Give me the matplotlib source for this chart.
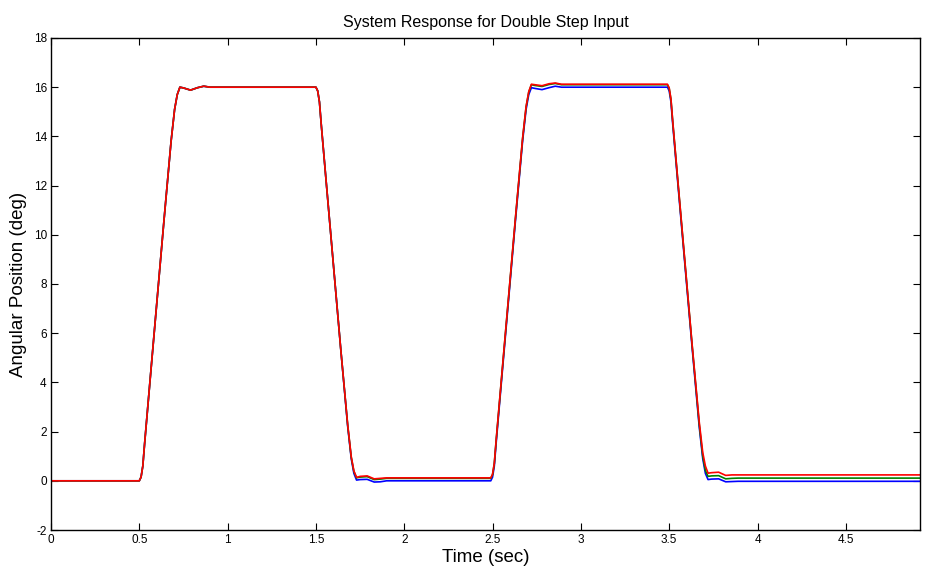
import matplotlib
matplotlib.use("Agg")
import matplotlib.pyplot as plt

plt.rcParams["font.family"] = ["Liberation Sans", "DejaVu Sans"]
plt.rcParams["axes.unicode_minus"] = False

# sample times (s) of the simulated response
time = [
    0.0, 0.50,
    0.51, 0.52, 0.53, 0.56, 0.60, 0.64, 0.68, 0.70, 0.715, 0.73, 0.75, 0.79, 0.83, 0.865, 0.90,
    1.50,
    1.51, 1.52, 1.53, 1.56, 1.60, 1.64, 1.68, 1.70, 1.715, 1.73, 1.75, 1.79, 1.83, 1.865, 1.90,
    2.49,
    2.50, 2.51, 2.52, 2.55, 2.59, 2.63, 2.67, 2.69, 2.705, 2.72, 2.74, 2.78, 2.82, 2.855, 2.89,
    3.49,
    3.50, 3.51, 3.52, 3.55, 3.59, 3.63, 3.67, 3.69, 3.705, 3.72, 3.74, 3.78, 3.82, 3.855, 3.89,
    4.92,
]

# angular position (deg) for the three responses
pos_blue = [
    0.0, 0.0,
    0.15, 0.6, 1.5, 4.0, 7.3, 10.6, 13.8, 15.1, 15.7, 16.0, 15.97, 15.88, 15.98, 16.04, 16.0,
    16.0,
    15.85, 15.4, 14.5, 12.0, 8.7, 5.4, 2.2, 0.9, 0.3, 0.03, 0.05, 0.06, -0.05, -0.04, 0.0,
    0.0,
    0.15, 0.6, 1.5, 4.0, 7.3, 10.6, 13.8, 15.1, 15.7, 15.98, 15.95, 15.9, 15.98, 16.04, 16.0,
    16.0,
    15.85, 15.4, 14.5, 12.0, 8.7, 5.4, 2.2, 0.9, 0.3, 0.05, 0.07, 0.08, -0.04, -0.03, -0.02,
    -0.02,
]
pos_green = [
    0.0, 0.0,
    0.15, 0.6, 1.5, 4.0, 7.3, 10.6, 13.8, 15.1, 15.7, 16.0, 15.97, 15.88, 15.98, 16.04, 16.0,
    16.0,
    15.85, 15.4, 14.5, 12.0, 8.7, 5.4, 2.25, 0.95, 0.38, 0.12, 0.15, 0.17, 0.05, 0.07, 0.1,
    0.1,
    0.25, 0.7, 1.6, 4.1, 7.4, 10.7, 13.9, 15.2, 15.8, 16.1, 16.07, 16.03, 16.11, 16.15, 16.1,
    16.1,
    15.95, 15.5, 14.6, 12.1, 8.8, 5.5, 2.3, 1.0, 0.42, 0.18, 0.2, 0.21, 0.08, 0.1, 0.11,
    0.11,
]
pos_red = [
    0.0, 0.0,
    0.15, 0.6, 1.5, 4.0, 7.3, 10.6, 13.8, 15.1, 15.7, 16.0, 15.97, 15.88, 15.98, 16.04, 16.0,
    16.0,
    15.85, 15.4, 14.5, 12.0, 8.7, 5.4, 2.27, 0.98, 0.4, 0.14, 0.18, 0.2, 0.08, 0.1, 0.12,
    0.12,
    0.27, 0.72, 1.62, 4.12, 7.42, 10.72, 13.92, 15.22, 15.82, 16.12, 16.1, 16.06, 16.14, 16.17, 16.12,
    16.12,
    15.97, 15.52, 14.62, 12.12, 8.82, 5.52, 2.4, 1.15, 0.6, 0.31, 0.33, 0.35, 0.22, 0.24, 0.24,
    0.24,
]

x_ticks = [0, 0.5, 1, 1.5, 2, 2.5, 3, 3.5, 4, 4.5]
x_labels = ["0", "0.5", "1", "1.5", "2", "2.5", "3", "3.5", "4", "4.5"]
y_ticks = list(range(-2, 19, 2))

fig = plt.figure(figsize=(9.25, 5.72), dpi=100)
ax = fig.add_axes([0.0551, 0.0734, 0.9395, 0.8602])

ax.plot(time, pos_blue, color="#0000ff", lw=1.2)
ax.plot(time, pos_green, color="#008000", lw=1.2)
ax.plot(time, pos_red, color="#ff0000", lw=1.2)

ax.set_xlim(0, 4.92)
ax.set_ylim(-2, 18)
ax.set_xticks(x_ticks)
ax.set_xticklabels(x_labels)
ax.set_yticks(y_ticks)
ax.tick_params(direction="in", length=5, width=0.8, labelsize=8.5,
               top=True, right=True, pad=3)
for sp in ax.spines.values():
    sp.set_linewidth(1.0)

ax.set_title("System Response for Double Step Input", fontsize=11.5, pad=8)
ax.set_xlabel("Time (sec)", fontsize=13.5, labelpad=2)
ax.set_ylabel("Angular Position (deg)", fontsize=13.5, labelpad=5)

fig.savefig("out.png", dpi=100)
